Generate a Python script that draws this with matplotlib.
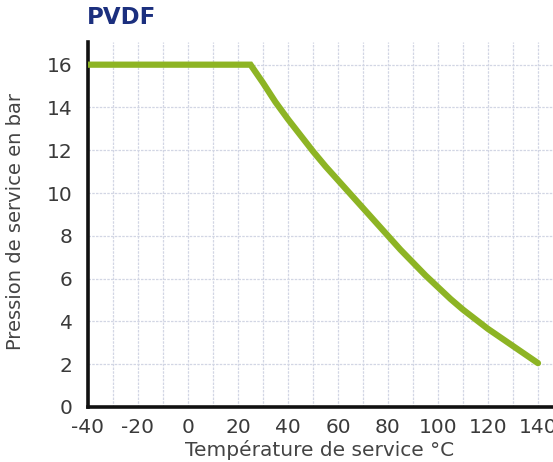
import numpy as np
import matplotlib.pyplot as plt

# service temperature (°C) and max service pressure (bar)
temperature = [-40, 25, 30, 35, 40, 45, 50, 55, 60, 65, 70, 75, 80, 85, 90,
               95, 100, 105, 110, 115, 120, 125, 130, 135, 140]
pressure = [16.0, 16.0, 15.15, 14.25, 13.45, 12.7, 11.95, 11.25, 10.6, 9.95, 9.3,
            8.65, 8.0, 7.35, 6.75, 6.15, 5.6, 5.05, 4.55, 4.1, 3.65, 3.25, 2.85,
            2.45, 2.05]

x_ticks = list(range(-40, 141, 20))
y_ticks = list(range(0, 17, 2))

plt.rcParams['font.family'] = ['DejaVu Sans']

fig = plt.figure(figsize=(5.53, 4.62), dpi=100)
ax = fig.add_axes([88 / 553, 1 - 407 / 462, 465 / 553, 365 / 462])

ax.plot(temperature, pressure, color='#8db424', linewidth=4.5,
        solid_capstyle='round', solid_joinstyle='miter', zorder=3)

ax.set_xlim(-40, 146)
ax.set_ylim(0, 17.06)
ax.set_xticks(x_ticks)
ax.set_yticks(y_ticks)
ax.set_xticklabels([str(t) for t in x_ticks])
ax.set_yticklabels([str(t) for t in y_ticks])
ax.tick_params(which='both', length=0)
ax.tick_params(axis='both', labelsize=14.5, labelcolor='#3a3a3a')
ax.tick_params(axis='x', pad=8)
ax.tick_params(axis='y', pad=11)

# grid every 10 °C and every 2 bar
ax.set_xticks(np.arange(-30, 146, 20), minor=True)
ax.grid(True, which='major', color='#d2d6e4', linewidth=0.9, linestyle=(0, (2, 1)))
ax.grid(True, which='minor', axis='x', color='#d2d6e4', linewidth=0.9, linestyle=(0, (2, 1)))

for side in ['top', 'right']:
    ax.spines[side].set_visible(False)
for side in ['left', 'bottom']:
    ax.spines[side].set_linewidth(2.6)
    ax.spines[side].set_color('#111111')

ax.set_xlabel('Température de service °C', fontsize=14.5, color='#444444', va='center')
ax.set_ylabel('Pression de service en bar', fontsize=14, color='#444444')
ax.xaxis.set_label_coords((320 - 88) / 465, -(450 - 407) / 365)
ax.yaxis.set_label_coords(-(88 - 25) / 465, (407 - 222) / 365)

fig.text(87 / 553, 1 - 18 / 462, 'PVDF', fontsize=16.5, fontweight='bold',
         color='#1b2f7e', va='center', ha='left')

fig.savefig('out.png', dpi=100)
